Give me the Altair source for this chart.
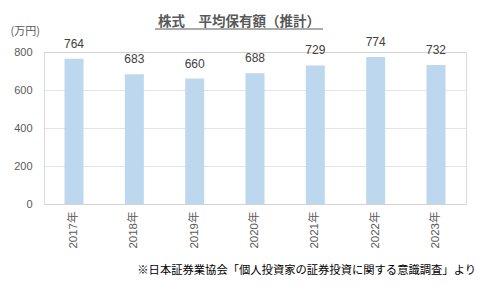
import altair as alt
import pandas as pd

years = ["2017年", "2018年", "2019年", "2020年", "2021年", "2022年", "2023年"]
values = [764, 683, 660, 688, 729, 774, 732]
title_text = "株式　平均保有額（推計）"
unit_text = "(万円)"
footnote = "※日本証券業協会「個人投資家の証券投資に関する意識調査」より"
y_ticks = [0, 200, 400, 600, 800]

df = pd.DataFrame({"year": years, "value": values})
FONT = "Liberation Sans, 'Noto Sans CJK JP', sans-serif"
JFONT = "'Noto Sans CJK JP', sans-serif"
TXT = "#595959"

base = alt.Chart(df)

x_enc = alt.X("year:N", sort=years, title=None,
              scale=alt.Scale(paddingInner=0.685, paddingOuter=0.34),
              axis=alt.Axis(labelAngle=-90, labelAlign="right", labelBaseline="middle",
                            labelPadding=7, ticks=False, domain=False,
                            labelFont=FONT, labelFontSize=11.5, labelColor=TXT))
y_enc = alt.Y("value:Q", scale=alt.Scale(domain=[0, 800]),
              axis=alt.Axis(values=y_ticks, title=unit_text, titleAngle=0,
                            titleX=-34, titleY=-16, titleAlign="left",
                            titleFont=JFONT, titleFontSize=11, titleFontWeight="normal",
                            titleColor=TXT, labelFont=FONT, labelFontSize=11,
                            labelColor=TXT, labelPadding=12, ticks=False, domain=False,
                            labelOverlap=False, labelBound=False,
                            grid=True, gridColor="#C8C8C8", gridDash=[1, 1]))

bars = base.mark_bar(color="#BDD7EE").encode(x=x_enc, y=y_enc)
labels = base.mark_text(baseline="bottom", dy=-8, font=FONT, fontSize=12, color="#404040").encode(
    x=x_enc, y=y_enc, text="value:Q")

title_df = pd.DataFrame({"t": [title_text]})
title = alt.Chart(title_df).mark_text(font=JFONT, fontSize=13.5, fontWeight="bold",
                                      color=TXT, baseline="alphabetic", align="center").encode(
    text="t:N", x=alt.value(195), y=alt.value(-26))
underline = alt.Chart(title_df).mark_rule(color=TXT, strokeWidth=1).encode(
    x=alt.value(111), x2=alt.value(279), y=alt.value(-23))

foot_df = pd.DataFrame({"t": [footnote]})
foot = alt.Chart(foot_df).mark_text(font=JFONT, fontSize=11.3, color="#000000",
                                    align="right", baseline="middle").encode(
    text="t:N", x=alt.value(432), y=alt.value(219))

chart = alt.layer(bars, labels, title, underline, foot).properties(
    width=422, height=152,
    autosize=alt.AutoSizeParams(type="none"),
    padding={"left": 44, "top": 52, "right": 14, "bottom": 86},
).configure_view(stroke=None).configure(background="white")

chart.save("out.html", embed_options={"renderer": "svg", "actions": False})
